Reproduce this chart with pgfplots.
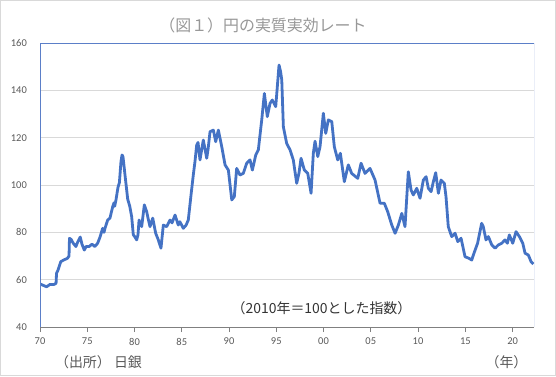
\documentclass[border=0pt]{standalone}
\usepackage{fontspec}
\setmainfont{Carlito}
\newfontfamily\jp{Noto Sans CJK JP}
\usepackage{pgfplots}
\pgfplotsset{compat=1.18}
\definecolor{serie}{HTML}{4472C4}
\definecolor{frameblue}{HTML}{5B7FC8}
\definecolor{lab}{HTML}{595959}
\definecolor{titlegray}{HTML}{989898}
\definecolor{gridc}{HTML}{D9D9D9}
\begin{document}
\begin{tikzpicture}[x=1bp,y=1bp]
\useasboundingbox (0,0) rectangle (556,376);
\fill[white] (0,0) rectangle (556,376);
\draw[color=gridc, line width=1.2bp] (0.6,0.6) rectangle (555.4,375.4);
\begin{axis}[
  at={(40bp,49bp)}, anchor=south west,
  scale only axis, width=494bp, height=284bp,
  xmin=1970, xmax=2022.27, ymin=40, ymax=160,
  ytick={40,60,...,160},
  xtick={1970,1975,...,2020},
  xticklabels={70,75,80,85,90,95,00,05,10,15,20},
  ymajorgrids, grid style={color=gridc, line width=0.9bp},
  axis line style={draw=none},
  xtick align=outside, xtick pos=lower, ytick style={draw=none},
  xtick style={color=gray, line width=0.8bp},
  major tick length=5bp,
  /pgf/number format/assume math mode=true,
  every tick label/.append style={inner sep=0pt, color=lab, font=\fontsize{10.5}{12}\selectfont},
  yticklabel style={xshift=-13bp},
  xticklabel style={yshift=-6bp},
]
\addplot[color=serie, line width=2.8bp, line join=round] coordinates {
(1970.0,58.2)(1970.4,57.5)(1970.7,57.0)(1971.06,58.0)(1971.5,58.0)(1971.7,58.5)(1971.75,62.7)(1971.9,64)(1972.2,67.6)(1972.5,68.3)(1972.9,69)(1973.07,70)(1973.12,77.5)(1973.3,77)(1973.5,75.5)(1973.8,74)(1974.0,76)(1974.26,78)(1974.44,75)(1974.69,72.5)(1974.87,74)(1975.2,74)(1975.5,75)(1975.8,74)(1976.1,75.4)(1976.35,78)(1976.63,81.7)(1976.77,80)(1976.9,82)(1977.16,85.2)(1977.4,86)(1977.69,90.8)(1977.83,92.5)(1977.9,91)(1978.04,93.7)(1978.25,99)(1978.4,101)(1978.57,110)(1978.68,112.7)(1978.78,112)(1979.0,104)(1979.28,94)(1979.5,91)(1979.7,86.6)(1979.87,79)(1980.05,78)(1980.23,76.8)(1980.37,79)(1980.48,85.2)(1980.76,82.4)(1981.04,91.6)(1981.29,88.7)(1981.43,86)(1981.64,82.4)(1981.93,86)(1982.24,79.6)(1982.5,77)(1982.8,73.3)(1983.05,83.1)(1983.4,82.4)(1983.76,85.2)(1983.97,84)(1984.29,87.3)(1984.63,83.1)(1984.8,84.5)(1985.16,81.7)(1985.45,83)(1985.69,85.2)(1985.98,95.8)(1986.22,104.2)(1986.4,110)(1986.58,116.9)(1986.72,118)(1986.93,110.6)(1987.28,119)(1987.64,111.3)(1987.78,115)(1987.99,122.5)(1988.34,123.2)(1988.59,118.3)(1988.87,123.2)(1989.23,116.2)(1989.58,108.5)(1989.93,106.3)(1990.29,93.7)(1990.56,95.1)(1990.81,107)(1991.16,104.2)(1991.51,104.9)(1991.87,109.2)(1992.22,110.6)(1992.47,106.3)(1992.83,112.7)(1993.1,114.8)(1993.46,127.5)(1993.74,138.7)(1994.05,128.9)(1994.34,134.5)(1994.58,135.9)(1994.94,133.1)(1995.08,140)(1995.29,150.7)(1995.45,148)(1995.58,144.4)(1995.75,124.6)(1996.1,117.6)(1996.46,114.8)(1996.8,110.6)(1997.16,100.7)(1997.4,105)(1997.62,111.3)(1997.97,106.3)(1998.33,104.9)(1998.68,96.5)(1998.92,113.4)(1999.1,118.5)(1999.39,112)(1999.63,116.2)(1999.98,130.3)(2000.23,121.8)(2000.51,127.5)(2000.87,126.8)(2001.14,116.2)(2001.5,110.6)(2001.78,113.4)(2002.2,101.4)(2002.62,108.5)(2002.98,104.9)(2003.62,102.8)(2003.97,109.2)(2004.39,104.9)(2004.92,107)(2005.45,102.1)(2005.98,92.3)(2006.43,92.3)(2006.79,88.7)(2007.22,83.1)(2007.57,79.6)(2007.92,83.1)(2008.28,88)(2008.62,82.4)(2008.97,105.6)(2009.26,97.9)(2009.5,95.8)(2009.86,98.6)(2010.21,94.4)(2010.56,102.1)(2010.85,103.5)(2011.09,98.6)(2011.38,97.2)(2011.62,101.4)(2011.87,105.2)(2012.15,96.5)(2012.43,102.1)(2012.78,100.7)(2012.96,95)(2013.2,82.4)(2013.56,78.2)(2013.92,79.6)(2014.2,76.1)(2014.55,77.5)(2014.97,69.7)(2015.4,69)(2015.68,68.3)(2015.85,70.4)(2016.3,75.4)(2016.37,76.8)(2016.73,83.8)(2016.9,82.4)(2017.19,76.8)(2017.44,78.2)(2017.8,74.7)(2018.15,73.3)(2018.5,74.7)(2018.86,75.4)(2019.2,76.8)(2019.45,75.4)(2019.66,78.9)(2020.02,75.4)(2020.37,80.3)(2020.72,78.2)(2021.08,75.4)(2021.32,71.2)(2021.67,70.4)(2021.96,67.6)(2022.2,66.6)
};
\draw[color=frameblue, line width=0.9bp] (rel axis cs:0,0) -- (rel axis cs:0,1) -- (rel axis cs:1,1) -- (rel axis cs:1,0);
\draw[color=gray, line width=0.9bp] (rel axis cs:0,0) -- (rel axis cs:1,0);
\end{axis}
\node[font=\jp\fontsize{16}{18}\selectfont, color=titlegray] at (263,351) {（図１）円の実質実効レート};
\node[font=\jp\fontsize{14}{16}\selectfont, color=black!80] at (321.5,68) {（2010年＝100とした指数）};
\node[font=\jp\fontsize{14}{16}\selectfont, color=lab] at (98.5,13.5) {（出所） 日銀};
\node[font=\jp\fontsize{14}{16}\selectfont, color=lab] at (506.5,13.5) {（年）};
\end{tikzpicture}
\end{document}
